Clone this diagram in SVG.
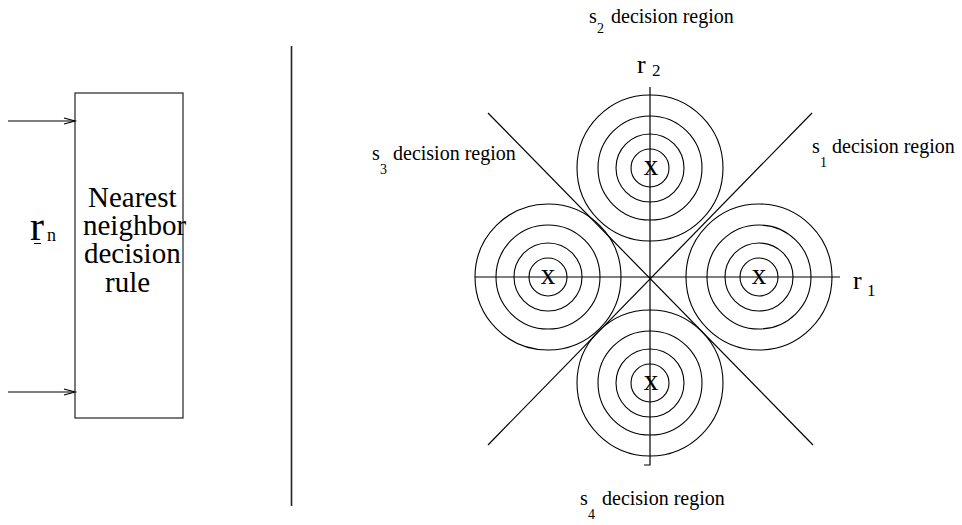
<svg xmlns="http://www.w3.org/2000/svg" width="962" height="525" viewBox="0 0 962 525" font-family="'Liberation Serif', 'Times New Roman', serif">
<style>
text{font-family:'Liberation Serif','Times New Roman',serif;fill:#000}
.ln{stroke:#000;stroke-width:1.2;fill:none}
.c{stroke:#000;stroke-width:1.1;fill:none}
.lbl{font-size:20px}
.sub{font-size:14px}
.box{font-size:29px}
.xm{font-size:29px;text-anchor:middle}
</style>
<rect width="962" height="525" fill="#fff"/>
<g id="block">
<rect x="75" y="93" width="108" height="325" fill="none" stroke="#222" stroke-width="1.2"/>
<text class="box" x="88" y="207">Nearest<tspan x="83" y="235">neighbor</tspan><tspan x="84" y="263">decision</tspan><tspan x="105" y="292">rule</tspan></text>
</g>
<g id="rn">
<text x="30" y="240" font-size="42">r<tspan x="47" y="241" font-size="18">n</tspan></text>
<line x1="34" y1="243.5" x2="41" y2="243.5" stroke="#000" stroke-width="1"/>
</g>
<g id="connectors">
<line class="ln" x1="8" y1="121" x2="75" y2="121"/>
<polyline class="ln" points="64,118 75,121 64,124"/>
<line class="ln" x1="8" y1="392" x2="75" y2="392"/>
<polyline class="ln" points="64,389 75,392 64,395"/>
</g>
<g id="separator">
<line x1="291.5" y1="46" x2="291.5" y2="506" stroke="#222" stroke-width="1.6"/>
</g>
<g id="axes">
<polyline class="ln" points="650,87 650,465 644,465"/>
<line class="ln" x1="475" y1="277" x2="840" y2="277"/>
<line class="ln" x1="488" y1="113" x2="813" y2="445"/>
<line class="ln" x1="812" y1="113" x2="488" y2="445"/>
</g>
<g id="s2-circles">
<circle class="c" cx="650" cy="168" r="73"/>
<circle class="c" cx="650" cy="168" r="52"/>
<circle class="c" cx="650" cy="168" r="34"/>
<circle class="c" cx="650" cy="168" r="19"/>
<text class="xm" x="651" y="175">x</text>
</g>
<g id="s3-circles">
<circle class="c" cx="548" cy="277" r="73"/>
<circle class="c" cx="548" cy="277" r="52"/>
<circle class="c" cx="548" cy="277" r="34"/>
<circle class="c" cx="548" cy="277" r="19"/>
<text class="xm" x="548" y="284">x</text>
</g>
<g id="s1-circles">
<circle class="c" cx="759" cy="277" r="73"/>
<circle class="c" cx="759" cy="277" r="52"/>
<circle class="c" cx="759" cy="277" r="34"/>
<circle class="c" cx="759" cy="277" r="19"/>
<text class="xm" x="759" y="284">x</text>
</g>
<g id="s4-circles">
<circle class="c" cx="650" cy="383" r="73"/>
<circle class="c" cx="650" cy="383" r="52"/>
<circle class="c" cx="650" cy="383" r="34"/>
<circle class="c" cx="650" cy="383" r="19"/>
<text class="xm" x="651" y="390">x</text>
</g>
<g id="axis-labels">
<text x="637" y="73" font-size="26">r<tspan x="652" y="76" font-size="17">2</tspan></text>
<text x="853" y="289" font-size="26">r<tspan x="867" y="296" font-size="17">1</tspan></text>
</g>
<g id="region-labels">
<text class="lbl" x="589" y="23">s<tspan class="sub" x="597" y="33">2</tspan><tspan x="611" y="23">decision region</tspan></text>
<text class="lbl" x="372" y="160">s<tspan class="sub" x="380" y="174">3</tspan><tspan x="393" y="160">decision region</tspan></text>
<text class="lbl" x="812" y="153">s<tspan class="sub" x="820" y="167">1</tspan><tspan x="832" y="153">decision region</tspan></text>
<text class="lbl" x="580" y="505">s<tspan class="sub" x="588" y="519">4</tspan><tspan x="602" y="505">decision region</tspan></text>
</g>
</svg>
